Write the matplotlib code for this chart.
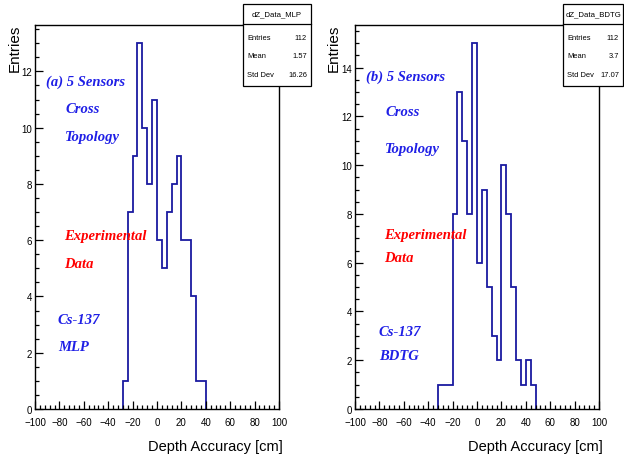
import numpy as np
import matplotlib
matplotlib.use("Agg")
import matplotlib.pyplot as plt
from matplotlib.ticker import MultipleLocator
from matplotlib.patches import Rectangle
from matplotlib.lines import Line2D

# ---------------- data ----------------
bin_width = 4
mlp_first_edge = -28
mlp_counts = [1, 7, 9, 13, 10, 8, 11, 6, 5, 7, 8, 9, 6, 6, 4, 1, 1]
bdtg_first_edge = -32
bdtg_counts = [1, 1, 1, 8, 13, 11, 8, 15, 6, 9, 5, 3, 2, 10, 8, 5, 2, 1, 2, 1]

mlp_stats = {"title": "dZ_Data_MLP", "Entries": "112", "Mean": "1.57", "Std Dev": "16.26"}
bdtg_stats = {"title": "dZ_Data_BDTG", "Entries": "112", "Mean": "3.7", "Std Dev": "17.07"}

mlp_texts_blue_top = ["(a) 5 Sensors", "Cross", "Topology"]
bdtg_texts_blue_top = ["(b) 5 Sensors", "Cross", "Topology"]
red_texts = ["Experimental", "Data"]
mlp_texts_blue_bottom = ["Cs-137", "MLP"]
bdtg_texts_blue_bottom = ["Cs-137", "BDTG"]

x_label = "Depth Accuracy [cm]"
y_label = "Entries"

# ---------------- style ----------------
W, H = 624, 460
fig = plt.figure(figsize=(W / 100, H / 100), dpi=100)
fig.patch.set_facecolor("white")
sans = "Liberation Sans"
serif = "Liberation Serif"
hist_color = "#1a1aa0"
txt_blue = "#1f1fe6"
txt_red = "#ff0000"


def px_axes(x0, y_top, w, h):
    return fig.add_axes([x0 / W, 1 - (y_top + h) / H, w / W, h / H])


def fx(x):
    return x / W


def fy(y):
    return 1 - y / H


def make_panel(x0, first_edge, counts, stats, box_x0, box_x1,
               blue_top, blue_top_pos, red_pos, blue_bot, blue_bot_pos,
               ylab_x):
    ax = px_axes(x0, 26, 244, 384)
    edges = first_edge + bin_width * np.arange(len(counts) + 1)
    ax.stairs(counts, edges, baseline=0, fill=False, color=hist_color, lw=1.3)
    ax.set_xlim(-100, 100)
    ax.set_ylim(0, max(counts) * 1.05)
    ax.xaxis.set_major_locator(MultipleLocator(20))
    ax.xaxis.set_minor_locator(MultipleLocator(4))
    ax.yaxis.set_major_locator(MultipleLocator(2))
    ax.yaxis.set_minor_locator(MultipleLocator(0.5))
    ax.tick_params(which="both", direction="in", top=False, right=False,
                   width=0.9, colors="black")
    ax.tick_params(which="major", length=6)
    ax.tick_params(which="minor", length=3)
    ax.tick_params(axis="x", which="major", pad=6, labelsize=7)
    ax.tick_params(axis="y", which="major", pad=2, labelsize=7)
    for lab in ax.get_xticklabels() + ax.get_yticklabels():
        lab.set_fontfamily(sans)
    for s in ax.spines.values():
        s.set_linewidth(1.0)
        s.set_color("black")

    # axis titles
    fig.text(fx(x0 + 248), fy(447), x_label, ha="right", va="center",
             fontsize=10.5, family=sans)
    fig.text(fx(ylab_x), fy(25), y_label, ha="center", va="top",
             rotation=90, fontsize=11, family=sans)

    # annotations
    for t, (tx, ty) in zip(blue_top, blue_top_pos):
        fig.text(fx(tx), fy(ty), t, ha="left", va="center", color=txt_blue,
                 fontsize=10.5, family=serif, fontweight="bold", style="italic")
    for t, (tx, ty) in zip(red_texts, red_pos):
        fig.text(fx(tx), fy(ty), t, ha="left", va="center", color=txt_red,
                 fontsize=10.5, family=serif, fontweight="bold", style="italic")
    for t, (tx, ty) in zip(blue_bot, blue_bot_pos):
        fig.text(fx(tx), fy(ty), t, ha="left", va="center", color=txt_blue,
                 fontsize=10.5, family=serif, fontweight="bold", style="italic")

    # stat box
    top, bot, div = 5, 87, 25
    rect = Rectangle((fx(box_x0), fy(bot)), fx(box_x1) - fx(box_x0),
                     fy(top) - fy(bot), transform=fig.transFigure,
                     facecolor="white", edgecolor="black", lw=0.9, zorder=10)
    fig.add_artist(rect)
    fig.add_artist(Line2D([fx(box_x0), fx(box_x1)], [fy(div), fy(div)],
                          transform=fig.transFigure, color="black", lw=0.9,
                          zorder=11))
    fig.text(fx((box_x0 + box_x1) / 2), fy(15), stats["title"], ha="center",
             va="center", fontsize=5.6, family=sans, zorder=12)
    for key, yy in zip(["Entries", "Mean", "Std Dev"], [39, 57, 76]):
        fig.text(fx(box_x0 + 4), fy(yy), key, ha="left", va="center",
                 fontsize=5.4, family=sans, zorder=12)
        fig.text(fx(box_x1 - 4), fy(yy), stats[key], ha="right", va="center",
                 fontsize=5.4, family=sans, zorder=12)
    return ax


make_panel(35, mlp_first_edge, mlp_counts, mlp_stats, 243, 311,
           mlp_texts_blue_top, [(46, 82), (65, 110), (65, 138)],
           [(64, 237), (64, 264)],
           mlp_texts_blue_bottom, [(58, 321), (58, 348)],
           15)
make_panel(355, bdtg_first_edge, bdtg_counts, bdtg_stats, 563, 623,
           bdtg_texts_blue_top, [(366, 77), (385, 113), (385, 149)],
           [(384, 235), (384, 259)],
           bdtg_texts_blue_bottom, [(379, 333), (379, 357)],
           334)

fig.savefig("out.png", dpi=100, facecolor="white")
